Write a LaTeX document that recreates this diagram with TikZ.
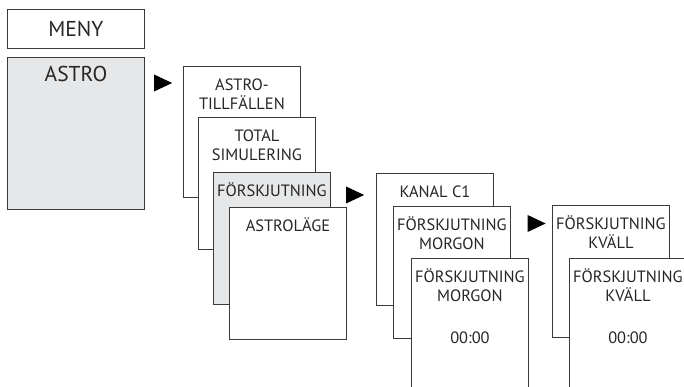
\documentclass[tikz,border=0pt]{standalone}
\usepackage{fontspec}
\setmainfont{PT Sans}
\usetikzlibrary{positioning}
\usetikzlibrary{shapes.geometric}
\definecolor{menugray}{HTML}{E6E7E8}
\definecolor{edgegray}{HTML}{3A3A3A}
\tikzstyle{card} = [
    rectangle,
    draw=edgegray,
    fill=white,
    line width=0.9pt,
    inner sep=0pt,
    minimum width=117pt,
    minimum height=131.5pt
]
\tikzstyle{card_sel} = [
    card,
    fill=menugray
]
\tikzstyle{caption} = [
    align=center,
    inner sep=0pt,
    text=black!85,
    font=\fontsize{16.4}{19}\selectfont
]
\tikzstyle{big_caption} = [
    caption,
    font=\fontsize{21.5}{23}\selectfont
]
\tikzstyle{go} = [
    isosceles triangle,
    isosceles triangle stretches,
    fill=black,
    inner sep=0pt,
    minimum width=17pt,
    minimum height=18pt
]
\newcommand{\tall}{\rule{0pt}{17pt}}

\begin{document}
\begin{tikzpicture}[x=1pt, y=-1pt]
\clip (0,0) rectangle (684,387);
% main menu
\node [card, anchor=north west, minimum width=137pt, minimum height=39pt] (meny) at (7,9) {};
\node [big_caption, anchor=base] (menytext) at ([yshift=-28pt]meny.north) {MENY};
\node [card_sel, anchor=north west, minimum width=137pt, minimum height=152pt] (astro) at (7,57) {};
\node [big_caption, anchor=base] (astrotext) at ([yshift=-25pt]astro.north) {ASTRO};
\node [go] (go1) at (159.5,83) {};
% astro submenu
\node [card, anchor=north west] (tillf) at (183,66) {};
\node [caption, below=7pt of tillf.north] (tillftext) {\tall ASTRO-\\TILLFÄLLEN};
\node [card, below right=51pt and 15pt of tillf.north west] (sim) {};
\node [caption, below=7pt of sim.north] (simtext) {\tall TOTAL\\SIMULERING};
\node [card_sel, below right=55pt and 15pt of sim.north west] (offset) {};
\node [caption, below=7pt of offset.north] (offsettext) {\tall FÖRSKJUTNING};
\node [card, below right=35pt and 16pt of offset.north west] (mode) {};
\node [caption, below=7pt of mode.north] (modetext) {\tall ASTROLÄGE};
\node [go] (go2) at (351.5,195) {};
% offset submenu
\node [card, anchor=north west] (chan) at (376,173) {};
\node [caption, below=7pt of chan.north] (chantext) {\tall KANAL C1};
\node [card, below right=33pt and 17pt of chan.north west] (morn) {};
\node [caption, below=7pt of morn.north] (morntext) {\tall FÖRSKJUTNING\\MORGON};
\node [card, below right=52pt and 18pt of morn.north west] (mornset) {};
\node [caption, below=7pt of mornset.north] (mornsettext) {\tall FÖRSKJUTNING\\MORGON\\[23pt]00:00};
\node [go] (go3) at (533,223.5) {};
% evening
\node [card, anchor=north west] (eve) at (552,205) {};
\node [caption, below=7pt of eve.north] (evetext) {\tall FÖRSKJUTNING\\KVÄLL};
\node [card, below right=53pt and 17pt of eve.north west] (eveset) {};
\node [caption, below=7pt of eveset.north] (evesettext) {\tall FÖRSKJUTNING\\KVÄLL\\[23pt]00:00};
\end{tikzpicture}
\end{document}
